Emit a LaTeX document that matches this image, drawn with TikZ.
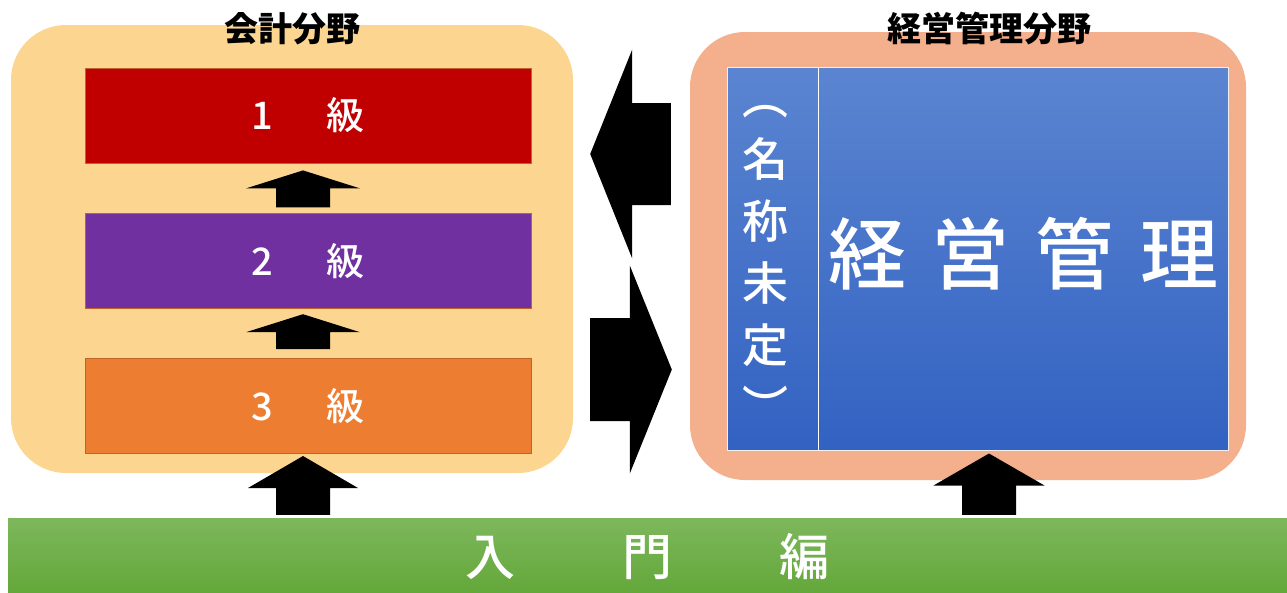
\documentclass[tikz,border=0pt]{standalone}
\usepackage{fontspec}
\setmainfont{Noto Sans CJK JP}
\newfontfamily\jpmed{Noto Sans CJK JP}[UprightFont=* Medium]
\usetikzlibrary{positioning,calc}

\definecolor{acctbg}{HTML}{FCD690}
\definecolor{mgmtbg}{HTML}{F4B08C}
\definecolor{lvone}{HTML}{C00000}
\definecolor{lvtwo}{HTML}{7030A0}
\definecolor{lvthree}{HTML}{ED7D31}
\definecolor{lvline}{HTML}{C0642A}
\definecolor{bluetop}{HTML}{5B85D1}
\definecolor{bluebot}{HTML}{3262C2}
\definecolor{greentop}{HTML}{7DB75C}
\definecolor{greenbot}{HTML}{63A739}

\tikzset{
  field/.style = {rounded corners=55pt, inner sep=0pt},
  fieldtitle/.style = {font=\bfseries\fontsize{34}{40}\selectfont, text=black, inner sep=0pt},
  level/.style = {minimum width=446pt, minimum height=95pt, inner sep=0pt,
    draw=lvline, line width=0.8pt, text=white,
    font=\jpmed\fontsize{38}{44}\selectfont},% 級のボックス
  blk/.style = {fill=black}
}

% 太い矢印: 元, 先, 軸の半幅, 頭の半幅, 頭の長さ
\newcommand{\blkup}[5]{%
  \fill[blk] let \p1=(#1), \p2=(#2) in
    ({\x1-#3},\y1) -- ({\x1-#3},{\y2-(#5)}) -- ({\x1-#4},{\y2-(#5)}) -- (\x2,\y2)
    -- ({\x1+#4},{\y2-(#5)}) -- ({\x1+#3},{\y2-(#5)}) -- ({\x1+#3},\y1) -- cycle;}
\newcommand{\blkside}[5]{%
  \fill[blk] let \p1=(#1), \p2=(#2) in
    (\x1,{\y1-#3}) -- ({\x2-(#5)},{\y1-#3}) -- ({\x2-(#5)},{\y1-#4}) -- (\x2,\y2)
    -- ({\x2-(#5)},{\y1+#4}) -- ({\x2-(#5)},{\y1+#3}) -- (\x1,{\y1+#3}) -- cycle;}

\begin{document}
\begin{tikzpicture}[x=1pt,y=-1pt]
\useasboundingbox (0,0) rectangle (1287,592);

% 分野
\node [field, fill=acctbg, minimum width=562pt, minimum height=448pt] (acct) at (292,249) {};
\node [field, fill=mgmtbg, minimum width=556pt, minimum height=448pt] (mgmt) at (968,256) {};
\node [fieldtitle] (accttitle) at (292,29) {会計分野};
\node [fieldtitle] (mgmttitle) at (989,29) {経営管理分野};

% 級
\node [level, fill=lvone] (lv1) at (308,115.5) {1\hspace{54pt}級};
\node [level, fill=lvtwo, below=50pt of lv1] (lv2) {2\hspace{54pt}級};
\node [level, fill=lvthree, below=49pt of lv2] (lv3) {3\hspace{54pt}級};

% 経営管理
\node [minimum width=501pt, minimum height=383pt, inner sep=0pt,
  top color=bluetop, bottom color=bluebot, draw=white!88!gray, line width=1pt]
  (blue) at (977.5,258.5) {};
\draw [white, line width=1.2pt] ([xshift=92pt]blue.north west) -- ([xshift=92pt]blue.south west);
\node [text=white, align=center, inner sep=0pt, font=\jpmed\fontsize{46}{62}\selectfont]
  (tbd) at (765,265) {︵\\名\\称\\未\\定\\︶};
\node [text=white, inner sep=0pt, font=\jpmed\fontsize{78}{90}\selectfont]
  (mgmtname) at (1023,254) {経\hspace{26pt}営\hspace{26pt}管\hspace{26pt}理};

% 入門編
\node [minimum width=1279pt, minimum height=76pt, inner sep=0pt,
  top color=greentop, bottom color=greenbot, text=white,
  font=\jpmed\fontsize{50}{56}\selectfont]
  (green) at (647.5,556) {入\hspace{107pt}門\hspace{107pt}編};

% 矢印
\blkup{[xshift=-5pt,yshift=6pt]lv2.north}{[xshift=-5pt,yshift=-7pt]lv1.south}{27pt}{57pt}{18pt}
\blkup{[xshift=-5pt,yshift=9pt]lv3.north}{[xshift=-5pt,yshift=-5pt]lv2.south}{27pt}{57pt}{18pt}
\coordinate (a3tip) at ([xshift=-5pt,yshift=-2pt]lv3.south);
\blkup{$(green.north -| a3tip)+(0,-3)$}{a3tip}{27pt}{55pt}{32pt}
\coordinate (a4tip) at ([xshift=11.5pt,yshift=-3pt]blue.south);
\blkup{$(green.north -| a4tip)+(0,-3)$}{a4tip}{27pt}{55.5pt}{32pt}
\blkside{$(mgmt.west)+(-19,-102)$}{$(acct.east)+(17,-95)$}{51pt}{104.5pt}{-42pt}
\blkside{$(acct.east)+(17,120.5)$}{$(mgmt.west)+(-18,113.5)$}{51.5pt}{104pt}{42pt}
\end{tikzpicture}
\end{document}
